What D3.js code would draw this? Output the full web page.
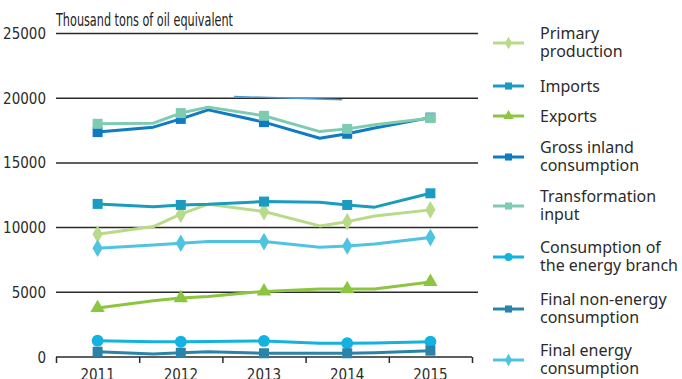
<!DOCTYPE html>
<html>
<head>
<meta charset="utf-8">
<script src="https://cdn.jsdelivr.net/npm/d3@7"></script>
<style>
  body { margin: 0; background: #fff; }
  svg { display: block; }
</style>
</head>
<body>
<div id="chart"></div>
<script>
// points along the year axis (values were read at these positions)
const years = [2011, 2011.67, 2012, 2012.33, 2013, 2013.67, 2014, 2014.33, 2015]
const labelYears = [2011, 2012, 2013, 2014, 2015]
const yTicks = [0, 5000, 10000, 15000, 20000, 25000]

const primaryProduction = [9490, 10080, 11040, 11810, 11240, 10130, 10460, 10900, 11370]
const imports = [11830, 11620, 11750, 11800, 12010, 11960, 11750, 11580, 12650]
const exports = [3790, 4350, 4560, 4680, 5070, 5250, 5250, 5250, 5800]
const grossInland = [17380, 17760, 18400, 19100, 18150, 16900, 17250, 17700, 18500]
const transformationInput = [18020, 18070, 18850, 19310, 18640, 17420, 17630, 17950, 18460]
const energyBranch = [1260, 1180, 1180, 1200, 1240, 1060, 1060, 1080, 1180]
const finalNonEnergy = [410, 230, 330, 400, 290, 290, 290, 330, 490]
const finalEnergy = [8410, 8660, 8790, 8920, 8920, 8480, 8580, 8740, 9230]

// short stray segment visible near the 20000 line
const strayYears = [2012.64, 2013.94]
const strayValues = [20130, 19880]

const series = [
    {name: ["Primary", "production"], values: primaryProduction, color: "#b8db8a", symbol: d3.symbolDiamond},
    {name: ["Imports"], values: imports, color: "#1a9cc0", symbol: d3.symbolSquare},
    {name: ["Exports"], values: exports, color: "#8cc540", symbol: d3.symbolTriangle},
    {name: ["Gross inland", "consumption"], values: grossInland, color: "#0f7bc3", symbol: d3.symbolSquare},
    {name: ["Transformation", "input"], values: transformationInput, color: "#7ecbb0", symbol: d3.symbolSquare},
    {name: ["Consumption of", "the energy branch"], values: energyBranch, color: "#13b2e1", symbol: d3.symbolCircle},
    {name: ["Final non-energy", "consumption"], values: finalNonEnergy, color: "#2a84aa", symbol: d3.symbolSquare},
    {name: ["Final energy", "consumption"], values: finalEnergy, color: "#4ec4e1", symbol: d3.symbolDiamond}
]

const width = 682
const height = 379
const narrow = "'Liberation Sans Narrow', 'DejaVu Sans Condensed', sans-serif"

const svg = d3.select("#chart")
    .append("svg")
    .attr("width", width)
    .attr("height", height)

const x = d3.scaleLinear().domain([2010.5, 2015.5]).range([56, 472])
const y = d3.scaleLinear().domain([0, 25000]).range([357, 33.5])

// horizontal grid
svg.selectAll("line.grid")
    .data(yTicks.filter(d => d > 0))
    .enter()
    .append("line")
    .attr("class", "grid")
    .attr("x1", 56)
    .attr("x2", 478)
    .attr("y1", d => y(d))
    .attr("y2", d => y(d))
    .attr("stroke", "#2a2a2a")
    .attr("stroke-width", 1.5)

// y labels
svg.selectAll("text.ylab")
    .data(yTicks)
    .enter()
    .append("text")
    .attr("class", "ylab")
    .attr("x", 46)
    .attr("y", d => y(d) + 5.5)
    .attr("text-anchor", "end")
    .style("font-family", narrow)
    .style("font-size", "15px")
    .style("fill", "#2b2b2b")
    .text(d => d)

svg.append("text")
    .attr("x", 56)
    .attr("y", 25.5)
    .attr("textLength", 177)
    .attr("lengthAdjust", "spacingAndGlyphs")
    .style("font-family", narrow)
    .style("font-size", "17.5px")
    .style("fill", "#222")
    .text("Thousand tons of oil equivalent")

// x axis
const xAxis = d3.axisBottom(x)
    .tickValues(d3.range(2010.5, 2016, 1))
    .tickSize(6)
    .tickFormat("")
const gx = svg.append("g")
    .attr("transform", "translate(0," + y(0) + ")")
    .call(xAxis)
gx.select(".domain").attr("stroke", "#2a2a2a").attr("stroke-width", 1.5)
    .attr("d", "M56,0H472")
gx.selectAll(".tick line").attr("stroke", "#2a2a2a").attr("stroke-width", 1.5)

svg.selectAll("text.xlab")
    .data(labelYears)
    .enter()
    .append("text")
    .attr("class", "xlab")
    .attr("x", d => x(d))
    .attr("y", 380)
    .attr("text-anchor", "middle")
    .style("font-family", narrow)
    .style("font-size", "15px")
    .style("fill", "#2b2b2b")
    .text(d => d)

const line = d3.line()
    .x(d => x(d[0]))
    .y(d => y(d[1]))

svg.append("path")
    .attr("d", line(d3.zip(strayYears, strayValues)))
    .attr("fill", "none")
    .attr("stroke", "#4a9ad6")
    .attr("stroke-width", 1.5)

function markerSize(s, big) {
    if (s === d3.symbolCircle) return big ? 110 : 50
    if (s === d3.symbolTriangle) return big ? 90 : 45
    if (s === d3.symbolDiamond) return big ? 90 : 45
    return big ? 100 : 50
}

series.forEach(function(s) {
    const pts = d3.zip(years, s.values)
    svg.append("path")
        .attr("d", line(pts))
        .attr("fill", "none")
        .attr("stroke", s.color)
        .attr("stroke-width", 3)
        .attr("stroke-linejoin", "round")

    svg.selectAll(null)
        .data(pts.filter(p => labelYears.includes(p[0])))
        .enter()
        .append("path")
        .attr("d", d3.symbol().type(s.symbol).size(markerSize(s.symbol, true)))
        .attr("transform", p => "translate(" + x(p[0]) + "," + y(p[1]) + ")")
        .attr("fill", s.color)
})

// legend
const legendY = [43, 86, 116, 157, 206, 257, 309, 360]
const legend = svg.selectAll("g.legend")
    .data(series)
    .enter()
    .append("g")
    .attr("class", "legend")
    .attr("transform", (d, i) => "translate(0," + legendY[i] + ")")

legend.append("line")
    .attr("x1", 493)
    .attr("x2", 524)
    .attr("stroke", d => d.color)
    .attr("stroke-width", 3)

legend.append("path")
    .attr("d", d => d3.symbol().type(d.symbol).size(markerSize(d.symbol, false))())
    .attr("transform", "translate(508.5,0)")
    .attr("fill", d => d.color)

legend.each(function(d) {
    const g = d3.select(this)
    const n = d.name.length
    d.name.forEach(function(t, j) {
        g.append("text")
            .attr("x", 540)
            .attr("y", (n === 1 ? 5.5 : -4.5 + j * 18.5))
            .style("font-family", "'Noto Sans', sans-serif")
            .style("font-size", "16px")
            .style("fill", "#2b2b2b")
            .text(t)
    })
})
</script>
</body>
</html>
